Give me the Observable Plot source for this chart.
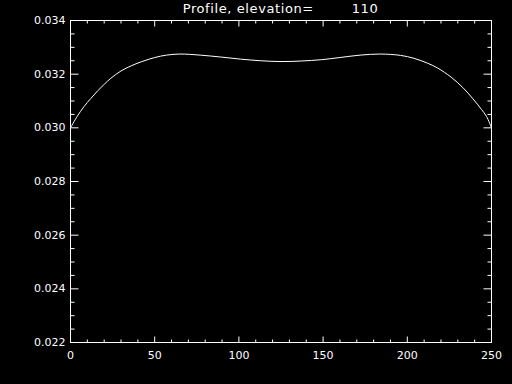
<!DOCTYPE html>
<html>
<head>
<meta charset="utf-8">
<script src="https://cdn.jsdelivr.net/npm/d3@7"></script>
<script src="https://cdn.jsdelivr.net/npm/@observablehq/plot@0.6"></script>
<style>
  html, body { margin: 0; padding: 0; background: #000; }
  #wrap { position: relative; width: 512px; height: 384px; overflow: hidden; background: #000; }
  #title { position: absolute; left: 70px; width: 421px; top: 1px; text-align: center;
           font-family: "DejaVu Sans", sans-serif; font-size: 13px; line-height: 15px;
           letter-spacing: 0.6px; white-space: pre; color: #fff; }
</style>
</head>
<body>
<div id="wrap"><div id="title"></div></div>
<script>
const titleText = "Profile, elevation=        110";

// profile samples
const xs = [0, 4, 8, 12, 16, 20, 24, 30, 36, 42, 50, 57, 65, 77, 89, 101, 113, 125,
            137, 149, 160, 172, 184, 196, 204, 212, 218, 226, 233, 239, 244, 247, 250];
const ys = [0.03000, 0.03043, 0.03079, 0.03109, 0.03137, 0.03162, 0.03185, 0.03212, 0.03231,
            0.03246, 0.03262, 0.03271, 0.03275, 0.03271, 0.03264, 0.03256, 0.03250, 0.03247,
            0.03249, 0.03254, 0.03262, 0.03271, 0.03275, 0.03270, 0.03259, 0.03241, 0.03223,
            0.03189, 0.03150, 0.03108, 0.03069, 0.03043, 0.03000];

const xDomain = [0, 250];
const yDomain = [0.022, 0.034];
const xMajor = [0, 50, 100, 150, 200, 250];
const xMinor = [10, 20, 30, 40, 60, 70, 80, 90, 110, 120, 130, 140, 160, 170, 180, 190, 210, 220, 230, 240];
const yMajor = [0.022, 0.024, 0.026, 0.028, 0.030, 0.032, 0.034];
const yMinor = [0.0225, 0.023, 0.0235, 0.0245, 0.025, 0.0255, 0.0265, 0.027, 0.0275,
                0.0285, 0.029, 0.0295, 0.0305, 0.031, 0.0315, 0.0325, 0.033, 0.0335];

const data = xs.map((x, i) => ({x, y: ys[i]}));

const seg = (dx, dy) => ({draw(ctx) { ctx.moveTo(0, 0); ctx.lineTo(dx, dy); }});
const tk = (arr, opts, sym) => Plot.dot(arr, {...opts, symbol: sym, stroke: "white", strokeWidth: 1, fill: "none"});

const chart = Plot.plot({
  width: 512,
  height: 384,
  marginTop: 20,
  marginBottom: 42,
  marginLeft: 70,
  marginRight: 21,
  style: {background: "black", color: "white", fontFamily: "DejaVu Sans, sans-serif", fontSize: "11px"},
  x: {domain: xDomain, ticks: xMajor, tickSize: 0, tickPadding: 9, label: null},
  y: {domain: yDomain, ticks: yMajor, tickSize: 0, tickPadding: 5, tickFormat: d3.format(".3f"), label: null},
  marks: [
    Plot.frame({stroke: "white"}),
    // bottom & top ticks
    tk(xMajor, {x: d => d, y: () => yDomain[0]}, seg(0, -6)),
    tk(xMinor, {x: d => d, y: () => yDomain[0]}, seg(0, -3)),
    tk(xMajor, {x: d => d, y: () => yDomain[1]}, seg(0, 6)),
    tk(xMinor, {x: d => d, y: () => yDomain[1]}, seg(0, 3)),
    // left & right ticks
    tk(yMajor, {y: d => d, x: () => xDomain[0]}, seg(8, 0)),
    tk(yMinor, {y: d => d, x: () => xDomain[0]}, seg(4, 0)),
    tk(yMajor, {y: d => d, x: () => xDomain[1]}, seg(-8, 0)),
    tk(yMinor, {y: d => d, x: () => xDomain[1]}, seg(-4, 0)),
    Plot.line(data, {x: "x", y: "y", stroke: "white", strokeWidth: 1, curve: "catmull-rom"})
  ]
});
document.getElementById("wrap").appendChild(chart);
document.getElementById("title").textContent = titleText;
</script>
</body>
</html>
